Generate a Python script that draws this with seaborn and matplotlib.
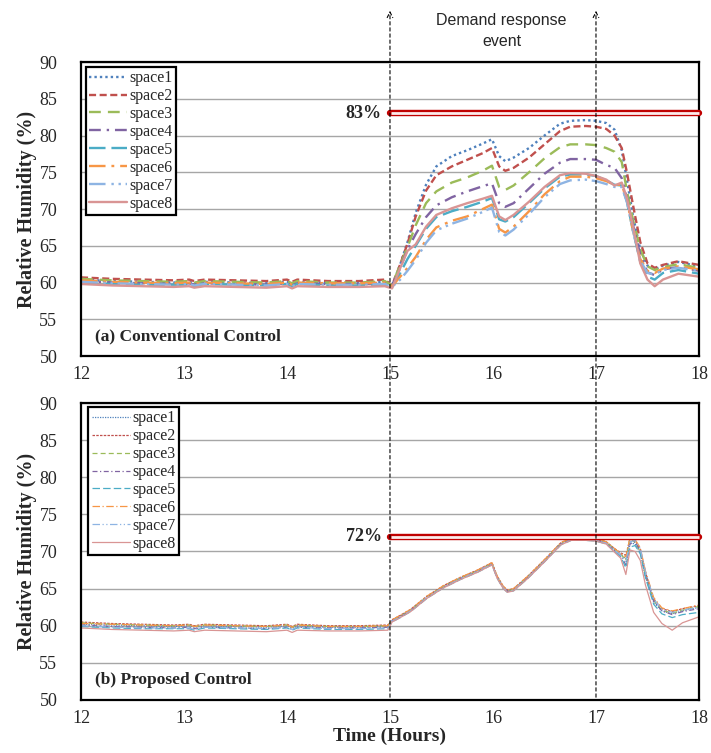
import numpy as np
import pandas as pd
import matplotlib
matplotlib.use("Agg")
import matplotlib.pyplot as plt
from matplotlib.patches import FancyArrowPatch
import seaborn as sns

# ---------------- data ----------------
spaces = ["space1", "space2", "space3", "space4", "space5", "space6", "space7", "space8"]

t_top = [12.0, 12.3, 12.6, 12.9, 13.05, 13.1, 13.2, 13.5, 13.8, 14.0, 14.05, 14.1, 14.4, 14.7, 14.95,
         15.02, 15.1, 15.17, 15.25, 15.35, 15.45, 15.6, 15.75, 15.9, 15.99, 16.06, 16.12, 16.2, 16.35,
         16.5, 16.65, 16.75, 16.9, 17.0, 17.1, 17.18, 17.25, 17.3, 17.36, 17.43, 17.5, 17.57, 17.65, 17.8, 18.0]

top_space1 = [60.4, 60.2, 60.1, 60.0, 60.1, 59.9, 60.1, 60.0, 59.9, 60.1, 59.8, 60.1, 59.9, 59.9, 60.1,
              59.6, 62.5, 65.5, 69.5, 73.3, 75.8, 77.2, 78.0, 78.9, 79.5, 77.2, 76.5, 77.0, 78.3,
              80.0, 81.6, 82.0, 82.1, 82.0, 81.7, 80.8, 78.0, 74.0, 69.0, 64.5, 62.3, 61.8, 62.3, 62.8, 62.2]
top_space2 = [60.7, 60.5, 60.4, 60.3, 60.4, 60.2, 60.4, 60.3, 60.2, 60.4, 60.1, 60.4, 60.2, 60.2, 60.4,
              59.6, 62.5, 65.3, 69.0, 72.5, 74.6, 75.8, 76.7, 77.6, 78.3, 75.8, 75.2, 75.6, 77.0,
              78.8, 80.6, 81.2, 81.3, 81.2, 80.9, 80.0, 78.3, 75.0, 70.5, 65.5, 62.6, 62.0, 62.4, 62.9, 62.4]
top_space3 = [60.5, 60.3, 60.2, 60.1, 60.2, 60.0, 60.2, 60.1, 60.0, 60.2, 59.9, 60.2, 60.0, 60.0, 60.2,
              59.6, 62.4, 64.8, 67.8, 70.8, 72.4, 73.6, 74.3, 75.2, 75.9, 73.0, 72.6, 73.2, 75.0,
              76.9, 78.4, 78.8, 78.8, 78.7, 78.3, 77.8, 76.4, 72.5, 68.5, 64.5, 62.2, 61.7, 62.1, 62.5, 62.0]
top_space4 = [60.2, 60.0, 59.9, 59.8, 59.9, 59.7, 59.9, 59.8, 59.7, 59.9, 59.6, 59.9, 59.8, 59.8, 59.9,
              59.5, 62.0, 64.5, 66.6, 68.9, 70.5, 71.6, 72.4, 73.1, 73.5, 70.8, 70.3, 70.8, 72.8,
              74.8, 76.3, 76.8, 76.8, 76.7, 76.0, 75.6, 74.2, 71.5, 67.8, 63.8, 61.4, 61.0, 61.8, 62.1, 61.6]
top_space5 = [60.0, 59.8, 59.7, 59.7, 59.7, 59.5, 59.8, 59.7, 59.6, 59.8, 59.5, 59.8, 59.6, 59.6, 59.7,
              59.3, 61.3, 63.2, 65.0, 67.3, 68.9, 69.7, 70.3, 71.0, 71.5, 68.6, 68.3, 68.9, 70.8,
              72.8, 74.4, 74.7, 74.7, 74.5, 73.9, 73.3, 73.2, 71.0, 67.0, 62.8, 60.8, 60.4, 61.3, 61.7, 61.2]
top_space6 = [60.3, 60.1, 60.0, 59.9, 60.0, 59.8, 60.0, 59.9, 59.8, 60.0, 59.7, 60.0, 59.9, 59.9, 60.0,
              59.5, 60.8, 62.0, 63.5, 65.8, 67.5, 68.4, 69.0, 70.0, 70.6, 67.3, 66.8, 67.6, 69.7,
              72.0, 73.8, 74.4, 74.4, 74.2, 73.8, 73.3, 73.3, 71.2, 67.0, 63.2, 61.6, 61.3, 61.9, 62.2, 61.8]
top_space7 = [60.1, 59.9, 59.8, 59.7, 59.8, 59.6, 59.8, 59.7, 59.6, 59.8, 59.5, 59.8, 59.7, 59.7, 59.8,
              59.4, 60.4, 61.6, 63.1, 65.4, 67.1, 68.0, 68.7, 69.6, 70.2, 66.9, 66.4, 67.2, 69.3,
              71.6, 73.4, 73.9, 74.0, 73.8, 73.4, 73.0, 73.0, 71.0, 67.0, 63.0, 61.3, 61.1, 61.7, 62.0, 61.6]
top_space8 = [59.8, 59.6, 59.5, 59.4, 59.5, 59.3, 59.5, 59.4, 59.3, 59.5, 59.2, 59.5, 59.4, 59.4, 59.5,
              59.2, 62.0, 64.3, 65.2, 67.6, 69.2, 70.1, 70.8, 71.4, 71.8, 69.0, 68.5, 69.2, 71.0,
              73.0, 74.6, 74.9, 74.8, 74.5, 74.0, 73.2, 73.6, 71.5, 67.6, 62.6, 60.4, 59.5, 60.4, 61.2, 60.8]

t_bot = [12.0, 12.3, 12.6, 12.9, 13.05, 13.1, 13.2, 13.5, 13.8, 14.0, 14.05, 14.1, 14.4, 14.7, 14.98,
         15.02, 15.1, 15.2, 15.36, 15.52, 15.68, 15.85, 15.99, 16.04, 16.1, 16.14, 16.2, 16.34, 16.5,
         16.66, 16.76, 16.9, 17.0, 17.1, 17.18, 17.24, 17.29, 17.33, 17.38, 17.43, 17.48, 17.56, 17.64,
         17.74, 17.84, 18.0]

bot_space1 = [60.2, 60.1, 60.0, 59.9, 60.0, 59.8, 60.0, 59.9, 59.8, 60.0, 59.7, 60.0, 59.8, 59.8, 59.9,
              60.7, 61.3, 62.1, 63.9, 65.3, 66.4, 67.4, 68.4, 66.6, 65.2, 64.7, 64.9, 66.6, 68.8,
              71.1, 71.7, 71.7, 71.6, 71.2, 70.2, 69.6, 69.0, 71.2, 71.0, 69.8, 66.6, 63.2, 62.0, 61.6, 62.0, 62.5]
bot_space2 = [60.5, 60.3, 60.2, 60.1, 60.2, 60.0, 60.2, 60.1, 60.0, 60.2, 59.9, 60.2, 60.0, 60.0, 60.1,
              60.8, 61.4, 62.2, 64.0, 65.4, 66.5, 67.5, 68.5, 66.7, 65.3, 64.8, 65.0, 66.7, 68.9,
              71.2, 71.8, 71.8, 71.7, 71.3, 70.4, 69.8, 69.5, 71.7, 71.5, 70.3, 67.2, 63.6, 62.3, 61.9, 62.3, 62.7]
bot_space3 = [60.4, 60.2, 60.1, 60.0, 60.1, 59.9, 60.1, 60.0, 59.9, 60.1, 59.8, 60.1, 59.9, 59.9, 60.0,
              60.7, 61.3, 62.1, 63.9, 65.3, 66.4, 67.4, 68.4, 66.6, 65.2, 64.7, 64.9, 66.6, 68.8,
              71.1, 71.8, 71.8, 71.7, 71.3, 70.3, 69.7, 68.8, 71.8, 71.2, 70.0, 66.9, 63.4, 62.1, 61.7, 62.1, 62.6]
bot_space4 = [60.1, 59.9, 59.8, 59.7, 59.8, 59.6, 59.8, 59.7, 59.6, 59.8, 59.5, 59.8, 59.7, 59.7, 59.8,
              60.6, 61.2, 62.0, 63.8, 65.2, 66.3, 67.3, 68.3, 66.5, 65.1, 64.6, 64.8, 66.5, 68.7,
              71.0, 71.6, 71.6, 71.5, 71.1, 70.1, 69.5, 68.2, 71.0, 71.3, 70.1, 67.0, 63.3, 62.0, 61.5, 61.9, 62.3]
bot_space5 = [59.9, 59.7, 59.6, 59.6, 59.6, 59.4, 59.7, 59.6, 59.5, 59.7, 59.4, 59.7, 59.5, 59.5, 59.6,
              60.5, 61.1, 61.9, 63.7, 65.1, 66.2, 67.2, 68.2, 66.4, 65.0, 64.5, 64.7, 66.4, 68.6,
              70.9, 71.5, 71.5, 71.4, 71.0, 70.0, 69.3, 67.8, 70.6, 70.8, 69.7, 66.5, 62.9, 61.6, 61.1, 61.5, 61.8]
bot_space6 = [60.3, 60.2, 60.1, 60.0, 60.1, 59.9, 60.1, 60.0, 59.9, 60.1, 59.8, 60.1, 59.9, 59.9, 60.0,
              60.8, 61.4, 62.2, 64.0, 65.4, 66.5, 67.5, 68.5, 66.7, 65.3, 64.8, 65.0, 66.7, 68.9,
              71.2, 71.8, 71.8, 71.7, 71.3, 70.4, 69.7, 69.3, 71.8, 71.6, 70.5, 67.4, 63.8, 62.4, 62.0, 62.3, 62.8]
bot_space7 = [60.0, 59.8, 59.7, 59.7, 59.7, 59.5, 59.8, 59.7, 59.6, 59.8, 59.5, 59.8, 59.6, 59.6, 59.7,
              60.6, 61.2, 62.0, 63.8, 65.2, 66.3, 67.3, 68.3, 66.5, 65.1, 64.6, 64.8, 66.5, 68.7,
              71.0, 71.6, 71.6, 71.5, 71.1, 70.2, 69.5, 68.6, 71.3, 71.5, 70.4, 67.3, 63.6, 62.2, 61.8, 62.1, 62.5]
bot_space8 = [59.7, 59.5, 59.4, 59.3, 59.4, 59.2, 59.4, 59.3, 59.2, 59.4, 59.1, 59.4, 59.3, 59.3, 59.4,
              60.5, 61.1, 61.9, 63.7, 65.1, 66.2, 67.2, 68.2, 66.4, 65.0, 64.5, 64.7, 66.4, 68.6,
              70.9, 71.5, 71.5, 71.4, 71.0, 69.9, 69.1, 66.9, 70.2, 70.0, 68.8, 65.5, 61.8, 60.3, 59.4, 60.4, 61.2]

threshold_top = 83
threshold_bot = 72
event_start, event_end = 15, 17
x_ticks = [12, 13, 14, 15, 16, 17, 18]
y_ticks = [50, 55, 60, 65, 70, 75, 80, 85, 90]

# ---------------- style ----------------
sns.set_style("white")
plt.rcParams["font.family"] = ["Liberation Serif", "DejaVu Serif"]

colors = {"space1": "#4F81BD", "space2": "#C0504D", "space3": "#9BBB59", "space4": "#8064A2",
          "space5": "#4BACC6", "space6": "#F79646", "space7": "#8EB4E3", "space8": "#D99594"}
dashes_top = {"space1": (1, 1.3), "space2": (3, 1.5), "space3": (5, 3), "space4": (5, 2.5, 1, 2.5),
              "space5": (7, 2.5), "space6": (7, 2.5, 1.2, 2.5), "space7": (7, 2.5, 1, 2, 1, 2), "space8": ""}
dashes_bot = {"space1": (1, 1), "space2": (2, 1), "space3": (4, 2.5), "space4": (4, 2, 1, 2),
              "space5": (6, 2.5), "space6": (6, 2, 1, 2), "space7": (6, 2, 1, 2, 1, 2), "space8": ""}

top_vals = [top_space1, top_space2, top_space3, top_space4, top_space5, top_space6, top_space7, top_space8]
bot_vals = [bot_space1, bot_space2, bot_space3, bot_space4, bot_space5, bot_space6, bot_space7, bot_space8]

df_top = pd.concat([pd.DataFrame({"time": t_top, "rh": v, "space": s}) for s, v in zip(spaces, top_vals)])
df_bot = pd.concat([pd.DataFrame({"time": t_bot, "rh": v, "space": s}) for s, v in zip(spaces, bot_vals)])

fig = plt.figure(figsize=(7.11, 7.53), dpi=100)
L, W = 0.1139, 0.8692
ax1 = fig.add_axes([L, 0.5272, W, 0.3904])
ax2 = fig.add_axes([L, 0.0704, W, 0.3944])


def draw(ax, df, dashes, lw, thresh, thr_label, panel_label, legend_box):
    sns.lineplot(data=df, x="time", y="rh", hue="space", style="space", palette=colors,
                 dashes=dashes, linewidth=lw, estimator=None, sort=False, legend=False, ax=ax)
    handles = list(ax.lines[:8])
    ax.plot([event_start, 18], [thresh, thresh], color="#C00000", lw=4.6, solid_capstyle="round",
            clip_on=False, zorder=5)
    ax.plot([event_start + 0.01, 18], [thresh, thresh], color="#FCEBEB", lw=2.0,
            solid_capstyle="butt", clip_on=False, zorder=6)
    ax.text(event_start - 0.08, thresh, thr_label, ha="right", va="center",
            fontsize=13, fontweight="bold")
    ax.text(12.14, 52.7, panel_label, ha="left", va="center", fontsize=12.5, fontweight="bold")
    ax.set_xlim(12, 18)
    ax.set_ylim(50, 90)
    ax.set_xticks(x_ticks)
    ax.set_yticks(y_ticks)
    ax.yaxis.grid(True, color="#A6A6A6", lw=1.0)
    ax.xaxis.grid(False)
    ax.set_axisbelow(True)
    for sp in ax.spines.values():
        sp.set_color("black")
        sp.set_linewidth(1.6)
    ax.tick_params(axis="both", direction="in", length=5, width=1.2, labelsize=13, color="black")
    ax.tick_params(axis="y", pad=17)
    ax.tick_params(axis="x", pad=7)
    ax.set_ylabel("Relative Humidity (%)", fontsize=14.5, fontweight="bold", labelpad=2)
    leg = ax.legend(handles, spaces, loc="upper left", bbox_to_anchor=legend_box, frameon=True,
                    fancybox=False, framealpha=1, edgecolor="black", fontsize=11.5,
                    handlelength=2.4, handletextpad=0.15, labelspacing=0.12, borderpad=0.2,
                    borderaxespad=0.0)
    leg.get_frame().set_linewidth(1.6)


draw(ax1, df_top, dashes_top, 1.7, threshold_top, "83%", "(a) Conventional Control", (0.008, 0.983))
draw(ax2, df_bot, dashes_bot, 0.9, threshold_bot, "72%", "(b) Proposed Control", (0.012, 0.986))
ax1.set_xlabel("")
ax2.set_xlabel("Time (Hours)", fontsize=14, fontweight="bold", labelpad=1)

# event markers spanning both panels
y_low = 0.0704
y_high = 1 - 8 / 753
for t in (event_start, event_end):
    xf = L + (t - 12) / 6 * W
    arr = FancyArrowPatch((xf, y_low), (xf, y_high), transform=fig.transFigure,
                          arrowstyle="->,head_length=4,head_width=2", lw=0.8, color="black",
                          linestyle=(0, (3, 2.5)), zorder=10)
    fig.add_artist(arr)

fig.text(L + 4 / 6 * W + 0.012, 1 - 20 / 753, "Demand response", ha="center", va="center",
         fontsize=11.5, family="Liberation Sans")
fig.text(L + 4 / 6 * W + 0.012, 1 - 41 / 753, "event", ha="center", va="center",
         fontsize=11.5, family="Liberation Sans")

fig.savefig("out.png", dpi=100)
